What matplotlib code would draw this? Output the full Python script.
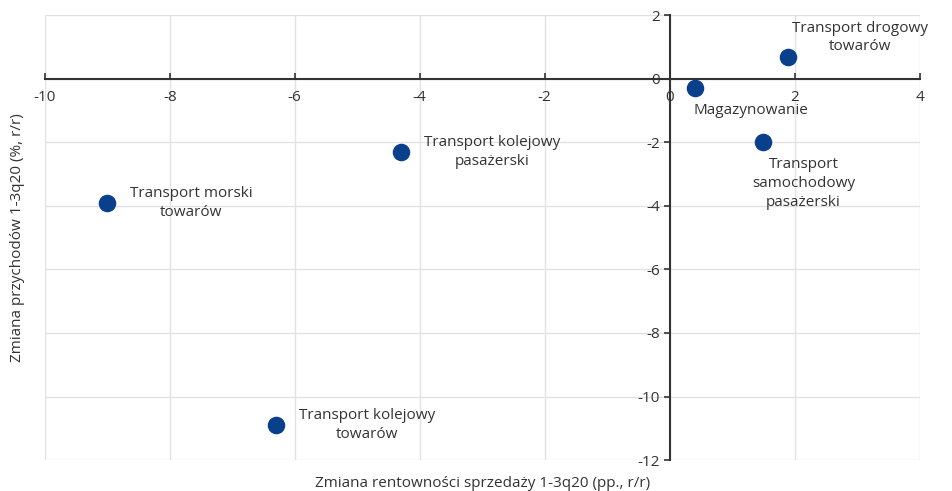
import matplotlib.pyplot as plt

plt.rcParams['font.family'] = ['Open Sans', 'DejaVu Sans']
plt.rcParams['axes.unicode_minus'] = False

# data
labels = ['Transport drogowy\ntowarów', 'Magazynowanie',
          'Transport\nsamochodowy\npasażerski', 'Transport kolejowy\npasażerski',
          'Transport morski\ntowarów', 'Transport kolejowy\ntowarów']
x_vals = [1.9, 0.4, 1.5, -4.3, -9.0, -6.3]
y_vals = [0.7, -0.3, -2.0, -2.3, -3.9, -10.9]

# label offsets in pixels (centre of text relative to point)
offsets = [(72, 19), (56, -22), (40, -41), (91, 0), (84, 0), (91, 0)]

txt_color = '#333333'
dot_color = '#0a3f8c'

fig = plt.figure(figsize=(9.52, 4.91), dpi=100)
ax = fig.add_axes([0.047, 0.063, 0.919, 0.906])

ax.scatter(x_vals, y_vals, s=135, color=dot_color, zorder=3)

for lab, x, y, off in zip(labels, x_vals, y_vals, offsets):
    ax.annotate(lab, (x, y), xytext=off, textcoords='offset pixels',
                ha='center', va='center', fontsize=11, color=txt_color,
                linespacing=1.35, zorder=4)

ax.set_xlim(-10, 4)
ax.set_ylim(-12, 2)
ax.set_xticks(range(-10, 5, 2))
ax.set_yticks(range(-12, 3, 2))

ax.grid(True, color='#e2e2e2', lw=1, zorder=0)
ax.set_axisbelow(True)

for s in ['top', 'right']:
    ax.spines[s].set_visible(False)
ax.spines['left'].set_position(('data', 0))
ax.spines['bottom'].set_position(('data', 0))
for s in ['left', 'bottom']:
    ax.spines[s].set_color('#333333')
    ax.spines[s].set_linewidth(1.5)

ax.tick_params(axis='x', direction='in', length=4, width=1.2, colors='#333333',
               labelcolor=txt_color, labelsize=11, pad=8)
ax.tick_params(axis='y', direction='out', length=4, width=1.2, colors='#333333',
               labelcolor=txt_color, labelsize=11, pad=3)

ax.set_xlabel('Zmiana rentowności sprzedaży 1-3q20 (pp., r/r)', fontsize=11, color=txt_color)
ax.set_ylabel('Zmiana przychodów 1-3q20 (%, r/r)', fontsize=11, color=txt_color)
ax.xaxis.set_label_coords(0.5, -0.035)
ax.yaxis.set_label_coords(-0.022, 0.5)

fig.savefig('out.png', dpi=100)
